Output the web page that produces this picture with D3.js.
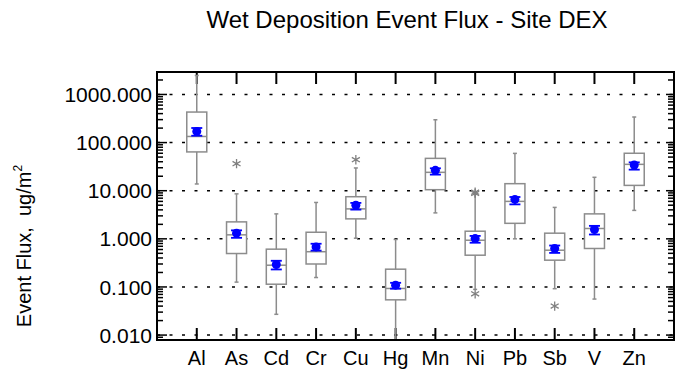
<!DOCTYPE html>
<html>
<head>
<meta charset="utf-8">
<script src="https://cdn.jsdelivr.net/npm/d3@7"></script>
<style>
  body { margin: 0; background: #fff; }
  text { font-family: "Liberation Sans", Arial, sans-serif; }
</style>
</head>
<body>
<svg id="chart" width="686" height="371"></svg>
<script>
var categories = ["Al", "As", "Cd", "Cr", "Cu", "Hg", "Mn", "Ni", "Pb", "Sb", "V", "Zn"];
var whiskerLow  = [13.8, 0.126, 0.027, 0.157, 1.03, 0.007, 3.46, 0.089, 1.0, 0.092, 0.056, 3.9];
var q1          = [64, 0.495, 0.114, 0.30, 2.6, 0.054, 10.5, 0.457, 2.1, 0.36, 0.63, 12.9];
var median      = [134, 1.21, 0.283, 0.54, 4.19, 0.093, 24.1, 0.935, 6.0, 0.58, 1.64, 35.3];
var q3          = [431, 2.25, 0.61, 1.37, 7.5, 0.234, 47, 1.44, 14, 1.31, 3.3, 60];
var whiskerHigh = [2480, 8.6, 3.3, 5.7, 29.7, 0.97, 298, 8.4, 59.7, 4.5, 19, 340];
var means       = [171, 1.31, 0.293, 0.68, 4.98, 0.109, 26.5, 1.01, 6.6, 0.63, 1.56, 34.3];
var meanLow     = [139, 1.05, 0.231, 0.57, 4.05, 0.092, 21.6, 0.83, 5.2, 0.51, 1.23, 27.4];
var meanHigh    = [201, 1.5, 0.35, 0.79, 5.58, 0.122, 29.2, 1.15, 7.4, 0.726, 1.86, 38.8];
var outlierCat  = ["As", "Cu", "Ni", "Ni", "Ni", "Sb"];
var outlierVal  = [36.5, 44, 8.8, 9.3, 0.072, 0.040];
var yTicks = [0.01, 0.1, 1, 10, 100, 1000];

var svg = d3.select("#chart"),
    pLeft = 157, pRight = 674, pTop = 72, pBottom = 340;

var x = d3.scaleLinear().domain([-1, categories.length]).range([pLeft, pRight]);
var y = d3.scaleLog().domain([0.0079, 2930]).range([pBottom, pTop]);

var boxColor = "#8c8c8c", boxW = 20;

svg.append("text")
    .attr("x", 407).attr("y", 28)
    .attr("text-anchor", "middle")
    .style("font-size", "24px")
    .text("Wet Deposition Event Flux - Site DEX");

var yl = svg.append("text")
    .attr("transform", "translate(31,246) rotate(-90)")
    .attr("text-anchor", "middle")
    .style("font-size", "20px")
    .style("white-space", "pre");
yl.append("tspan").text("Event Flux,  ug/m");
yl.append("tspan").attr("dy", "-9").style("font-size", "12px").text("2");

svg.append("clipPath").attr("id", "plotclip")
  .append("rect").attr("x", pLeft).attr("y", pTop).attr("width", pRight - pLeft).attr("height", pBottom - pTop);

var g = svg.append("g").attr("clip-path", "url(#plotclip)");

// dotted grid at decades
g.selectAll(".grid").data(yTicks).enter().append("line")
    .attr("x1", pLeft).attr("x2", pRight)
    .attr("y1", function(d) { return y(d); })
    .attr("y2", function(d) { return y(d); })
    .attr("stroke", "#000").attr("stroke-width", 1.5)
    .attr("stroke-dasharray", "3,9.5");

// minor and major ticks on left and right
var allTicks = [];
yTicks.concat([0.001]).forEach(function(dec) {
  for (var k = 1; k <= 9; k++) {
    var v = dec * k;
    if (v >= y.domain()[0] && v <= y.domain()[1]) allTicks.push({v: v, major: k == 1});
  }
});
g.selectAll(".ltick").data(allTicks).enter().append("line")
    .attr("x1", pLeft)
    .attr("x2", function(d) { return pLeft + (d.major ? 10 : 6); })
    .attr("y1", function(d) { return y(d.v); })
    .attr("y2", function(d) { return y(d.v); })
    .attr("stroke", "#000").attr("stroke-width", 1.5);
g.selectAll(".rtick").data(allTicks).enter().append("line")
    .attr("x1", pRight)
    .attr("x2", function(d) { return pRight - (d.major ? 8 : 6); })
    .attr("y1", function(d) { return y(d.v); })
    .attr("y2", function(d) { return y(d.v); })
    .attr("stroke", "#000").attr("stroke-width", 1.5);

// category ticks on top and bottom
categories.forEach(function(c, i) {
  g.append("line").attr("x1", x(i)).attr("x2", x(i)).attr("y1", pTop).attr("y2", pTop + 12)
      .attr("stroke", "#000").attr("stroke-width", 2);
  g.append("line").attr("x1", x(i)).attr("x2", x(i)).attr("y1", pBottom).attr("y2", pBottom - 12)
      .attr("stroke", "#000").attr("stroke-width", 2);
});

// box plots
categories.forEach(function(c, i) {
  var cx = x(i);
  g.append("line").attr("x1", cx).attr("x2", cx)
      .attr("y1", y(whiskerLow[i])).attr("y2", y(whiskerHigh[i]))
      .attr("stroke", boxColor).attr("stroke-width", 1.5);
  [whiskerLow[i], whiskerHigh[i]].forEach(function(v) {
    g.append("line").attr("x1", cx - 2).attr("x2", cx + 2)
        .attr("y1", y(v)).attr("y2", y(v))
        .attr("stroke", boxColor).attr("stroke-width", 1.5);
  });
  g.append("rect")
      .attr("x", cx - boxW / 2).attr("width", boxW)
      .attr("y", y(q3[i])).attr("height", y(q1[i]) - y(q3[i]))
      .attr("fill", "#fff").attr("stroke", boxColor).attr("stroke-width", 1.5);
  g.append("line").attr("x1", cx - boxW / 2).attr("x2", cx + boxW / 2)
      .attr("y1", y(median[i])).attr("y2", y(median[i]))
      .attr("stroke", boxColor).attr("stroke-width", 1.5);
  // mean with error bar
  g.append("line").attr("x1", cx).attr("x2", cx)
      .attr("y1", y(meanLow[i])).attr("y2", y(meanHigh[i]))
      .attr("stroke", "#0000ff").attr("stroke-width", 1.5);
  [meanLow[i], meanHigh[i]].forEach(function(v) {
    g.append("line").attr("x1", cx - 5.5).attr("x2", cx + 5.5)
        .attr("y1", y(v)).attr("y2", y(v))
        .attr("stroke", "#0000ff").attr("stroke-width", 1.8);
  });
  g.append("circle").attr("cx", cx).attr("cy", y(means[i])).attr("r", 4.5)
      .attr("fill", "#0000ff");
});

// outliers
var star = d3.symbol().type(d3.symbolAsterisk).size(60);
outlierVal.forEach(function(v, j) {
  var i = categories.indexOf(outlierCat[j]);
  g.append("path").attr("d", star)
      .attr("transform", "translate(" + x(i) + "," + y(v) + ")")
      .attr("fill", "none").attr("stroke", "#808080").attr("stroke-width", 1.3);
});

// frame
svg.append("rect").attr("x", pLeft).attr("y", pTop)
    .attr("width", pRight - pLeft).attr("height", pBottom - pTop)
    .attr("fill", "none").attr("stroke", "#000").attr("stroke-width", 2);

// y tick labels
svg.selectAll(".ylab").data(yTicks).enter().append("text")
    .attr("x", pLeft - 5)
    .attr("y", function(d) { return y(d); })
    .attr("dy", "0.36em")
    .attr("text-anchor", "end")
    .style("font-size", "21px")
    .text(function(d) { return d3.format(".3f")(d); });

// category labels
svg.selectAll(".xlab").data(categories).enter().append("text")
    .attr("x", function(d, i) { return x(i); })
    .attr("y", 365)
    .attr("text-anchor", "middle")
    .style("font-size", "20px")
    .text(function(d) { return d; });
</script>
</body>
</html>
